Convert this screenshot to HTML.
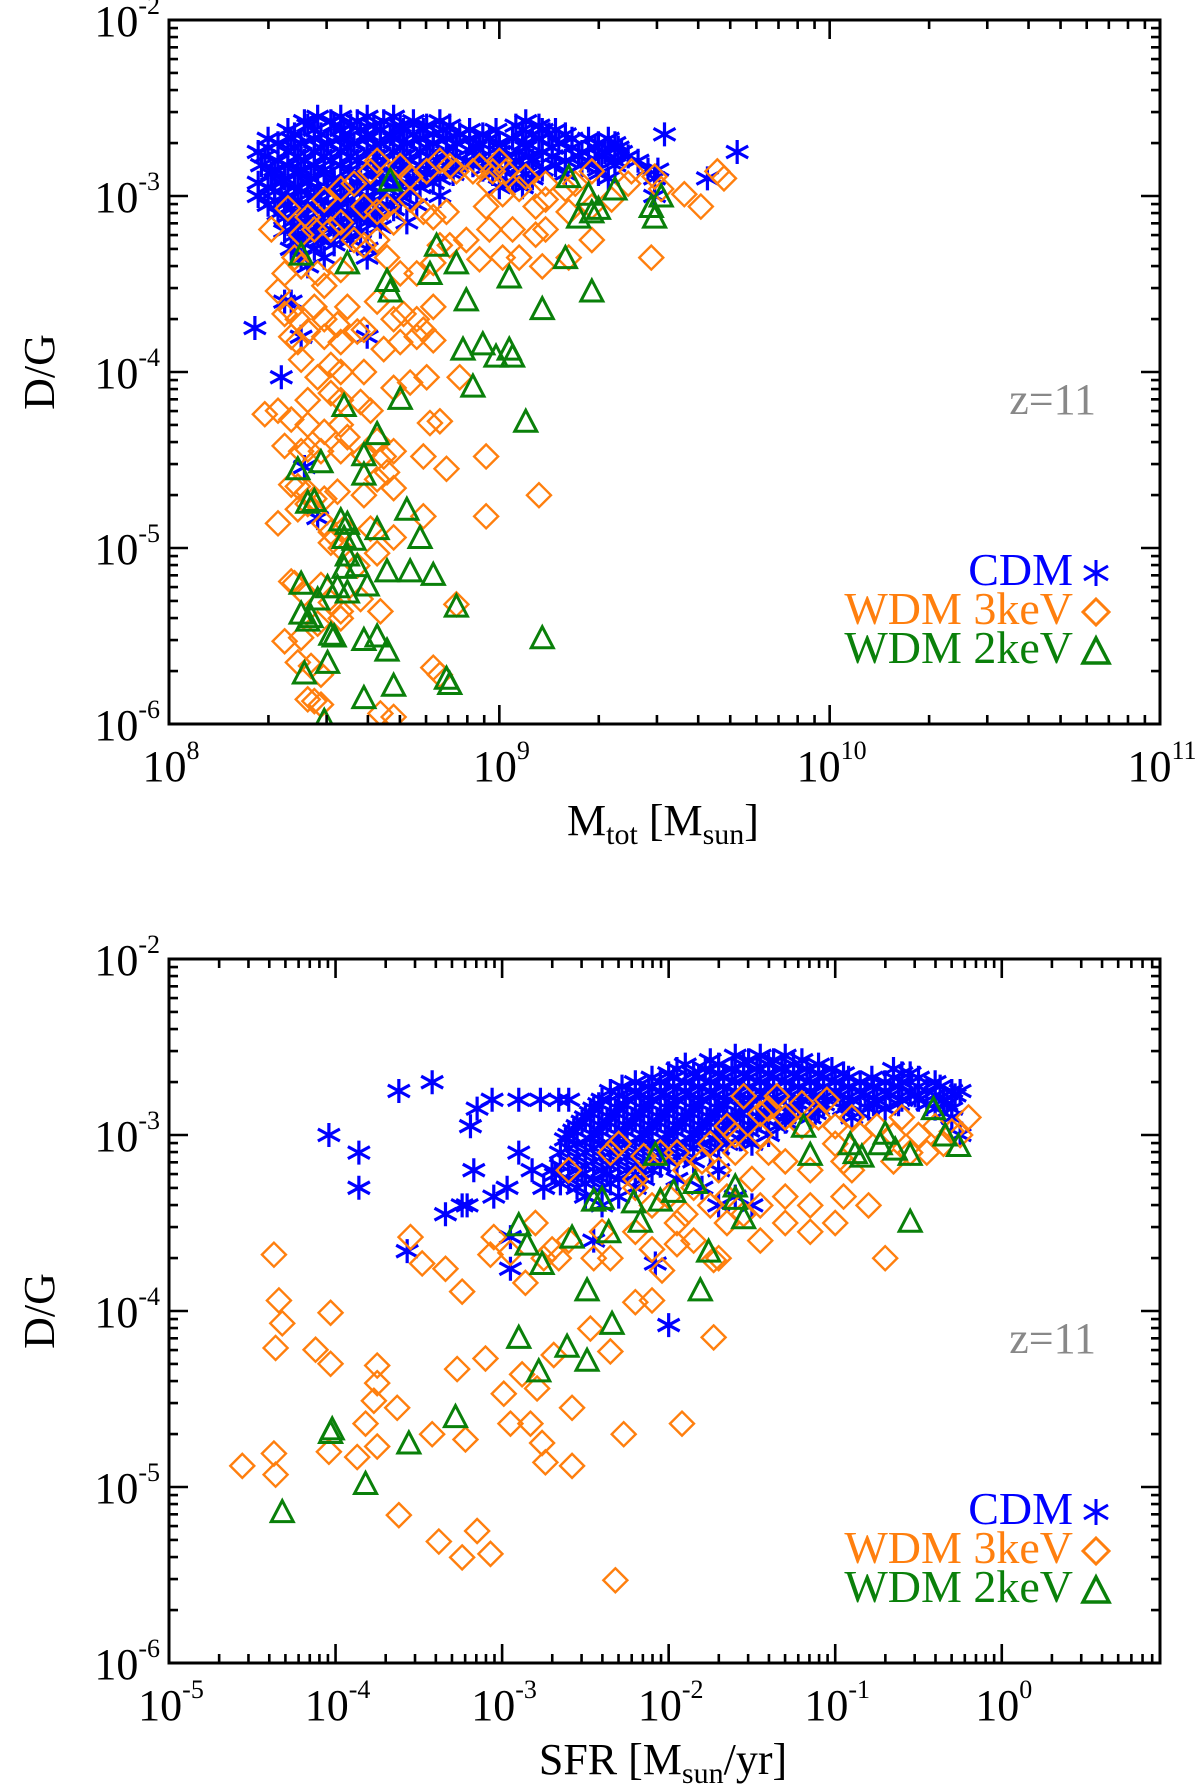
<!DOCTYPE html>
<html><head><meta charset="utf-8"><style>
html,body{margin:0;padding:0;background:#fff}
svg{display:block}
text{font-family:"Liberation Serif",serif}
</style></head><body>
<svg id="fig" width="1200" height="1789" viewBox="0 0 1200 1789" xmlns="http://www.w3.org/2000/svg">
<g id="p1"></g>
<g id="p2"></g>
</svg>
<script>
// ---------- data (log10 values) ----------
const cdmTopRows = [
 [-2.55,[8.45,8.52,8.6,8.68]],
 [-2.575,[8.41,8.49,8.57,8.65,8.74,8.82,9.08]],
 [-2.6,[8.42,8.5,8.55,8.62,8.7,8.78,8.85,9.05,9.12]],
 [-2.625,[8.36,8.44,8.52,8.58,8.64,8.71,8.77,8.83,8.91,8.99,9.07,9.13,9.17]],
 [-2.65,[8.38,8.46,8.53,8.6,8.67,8.74,8.8,8.88,8.95,9.1,9.15,9.2,9.5]],
 [-2.675,[8.3,8.37,8.44,8.52,8.6,8.68,8.76,8.84,8.91,8.97,9.04,9.12,9.22,9.27,9.33]],
 [-2.7,[8.33,8.4,8.48,8.56,8.64,8.72,8.8,8.87,8.94,9.0,9.08,9.18,9.3,9.35]],
 [-2.725,[8.3,8.38,8.46,8.54,8.62,8.7,8.78,8.86,8.93,9.0,9.08,9.16,9.22,9.29,9.36]],
 [-2.75,[8.27,8.36,8.44,8.52,8.6,8.68,8.76,8.84,8.92,9.0,9.06,9.13,9.25,9.32,9.37,9.72]],
 [-2.775,[8.29,8.39,8.47,8.55,8.63,8.71,8.79,8.87,8.95,9.02,9.09,9.16,9.24,9.31,9.39]],
 [-2.8,[8.33,8.41,8.49,8.57,8.65,8.73,8.81,8.9,8.97,9.05,9.1,9.2,9.27,9.35,9.42]],
 [-2.825,[8.28,8.36,8.44,8.52,8.6,8.68,8.76,8.84,8.92,8.99,9.07,9.17,9.25,9.35]],
 [-2.85,[8.32,8.4,8.47,8.55,8.62,8.7,8.78,8.86,8.95,9.02,9.13,9.3,9.45,9.48]],
 [-2.875,[8.31,8.39,8.47,8.55,8.62,8.7,8.78,8.86,8.98,9.08,9.2,9.3]],
 [-2.9,[8.35,8.43,8.5,8.58,8.66,8.74,8.82,9.05,9.1,9.33,9.47,9.63]],
 [-2.925,[8.27,8.34,8.42,8.5,8.57,8.64,8.72,8.8,9.04]],
 [-2.95,[8.3,8.38,8.45,8.53,8.6,8.68,8.76,9.0,9.07]],
 [-2.975,[8.32,8.4,8.48,8.56,8.64,8.73]],
 [-3.0,[8.27,8.36,8.44,8.52,8.6,8.7,8.82,9.47]],
 [-3.025,[8.32,8.39,8.46,8.54,8.62,8.7]],
 [-3.05,[8.3,8.35,8.42,8.5,8.58,8.66,8.75]],
 [-3.075,[8.37,8.44,8.51,8.59,8.68]],
 [-3.1,[8.33,8.4,8.47,8.55,8.63]],
 [-3.125,[8.35,8.42,8.49,8.57]],
 [-3.15,[8.37,8.44,8.52,8.6,8.72]],
 [-3.175,[8.39,8.46,8.54,8.64]],
 [-3.2,[8.35,8.42,8.5,8.58]],
 [-3.225,[8.38,8.45,8.52]],
 [-3.25,[8.39,8.46,8.55]],
 [-3.275,[8.41,8.5]],
 [-3.3,[8.37,8.44,8.6]],
 [-3.35,[8.4,8.47,8.6]],
 [-3.4,[8.42]],
 [-3.6,[8.35,8.37]],
 [-3.75,[8.26]],
 [-3.8,[8.4,8.6]],
 [-4.03,[8.34]],
 [-4.54,[8.41]],
 [-4.83,[8.45]]
];
const wdm3Top = [[8.31,-3.19],[8.36,-3.07],[8.42,-3.12],[8.47,-3.02],[8.52,-2.96],[8.56,-2.93],[8.61,-2.86],[8.63,-2.80],[8.70,-2.83],[8.73,-2.89],[8.78,-2.86],[8.82,-2.80],[8.85,-2.83],[8.87,-2.86],[8.92,-2.86],[8.94,-2.83],[8.97,-2.93],[9.01,-2.99],[9.06,-2.96],[9.11,-3.06],[9.14,-3.02],[9.21,-3.09],[9.28,-3.06],[9.34,-3.02],[9.39,-2.93],[9.49,-2.96],[9.56,-2.99],[9.61,-3.06],[9.68,-2.90],[9.66,-2.86],[9.40,-2.86],[9.47,-2.89],[9.28,-2.86],[9.23,-2.93],[9.14,-2.93],[9.20,-2.96],[9.08,-2.89],[9.02,-2.86],[8.98,-2.86],[9.00,-2.80],
[8.35,-3.44],[8.38,-3.35],[8.40,-3.22],[8.44,-3.19],[8.49,-3.19],[8.52,-3.15],[8.59,-3.06],[8.63,-3.09],[8.66,-3.06],[8.68,-3.15],[8.73,-3.02],[8.77,-3.09],[8.80,-3.12],[8.84,-3.09],[8.96,-3.06],[8.97,-3.19],[9.04,-3.19],[9.11,-3.22],[9.14,-3.19],[9.01,-3.35],[9.06,-3.35],[9.13,-3.40],[9.21,-3.35],[9.28,-3.25],[9.46,-3.35],
[8.40,-3.40],[8.45,-3.44],[8.47,-3.51],[8.52,-3.42],[8.56,-3.25],[8.59,-3.28],[8.63,-3.25],[8.66,-3.35],[8.70,-3.44],[8.75,-3.44],[8.80,-3.38],[8.82,-3.28],[8.85,-3.28],[8.90,-3.25],[8.94,-3.36],
[8.33,-3.54],[8.35,-3.67],[8.37,-3.65],[8.39,-3.70],[8.44,-3.63],[8.47,-3.70],[8.51,-3.73],[8.54,-3.63],[8.59,-3.76],[8.63,-3.60],[8.68,-3.70],[8.71,-3.67],[8.75,-3.70],[8.77,-3.76],[8.80,-3.63],
[8.37,-3.80],[8.39,-3.83],[8.42,-3.77],[8.47,-3.80],[8.52,-3.83],[8.57,-3.77],[8.65,-3.87],[8.70,-3.83],[8.75,-3.80],[8.80,-3.82],
[8.40,-3.93],[8.45,-4.03],[8.49,-3.96],[8.52,-4.00],[8.59,-4.00],[8.68,-4.09],[8.73,-4.06],[8.78,-4.03],[8.88,-4.03],
[8.42,-4.16],[8.49,-4.12],[8.52,-4.16],[8.58,-4.17],[8.61,-4.22],
[8.29,-4.24],[8.33,-4.22],[8.37,-4.27],[8.42,-4.30],[8.47,-4.34],[8.52,-4.30],[8.54,-4.37],[8.63,-4.39],[8.65,-4.48],[8.68,-4.45],[8.79,-4.29],[8.82,-4.28],
[8.35,-4.42],[8.40,-4.45],[8.42,-4.44],[8.46,-4.45],[8.52,-4.45],[8.59,-4.47],[8.63,-4.61],[8.77,-4.48],[8.84,-4.55],
[8.37,-4.64],[8.39,-4.65],[8.42,-4.68],[8.44,-4.72],[8.47,-4.72],[8.51,-4.68],[8.59,-4.70],[8.66,-4.57],[8.68,-4.66],[8.96,-4.48],[9.12,-4.70],
[8.33,-4.86],[8.39,-4.78],[8.42,-4.75],[8.47,-4.86],[8.49,-4.91],[8.53,-4.89],[8.61,-4.89],[8.77,-4.82],[8.96,-4.82],
[8.49,-4.97],[8.52,-5.00],[8.57,-5.10],[8.63,-5.03],[8.68,-4.94],
[8.37,-5.19],[8.38,-5.20],[8.41,-5.26],[8.46,-5.21],[8.49,-5.31],[8.52,-5.36],[8.58,-5.29],[8.87,-5.32],
[8.35,-5.53],[8.40,-5.51],[8.45,-5.43],[8.52,-5.40],[8.64,-5.36],
[8.39,-5.65],[8.43,-5.67],[8.46,-5.72],[8.42,-5.86],[8.44,-5.87],[8.46,-5.89],[8.64,-5.94],[8.68,-5.96],[8.80,-5.68],[8.82,-5.72]];
const wdm2Top = [[8.40,-3.33],[8.67,-2.91],[8.54,-3.38],[8.67,-3.54],[8.66,-3.48],[8.79,-3.44],[8.81,-3.28],[8.87,-3.38],[8.90,-3.59],[8.95,-3.84],[9.03,-3.46],[9.20,-3.35],[9.21,-2.89],[9.24,-3.12],[9.28,-3.09],[9.27,-2.99],[9.30,-3.07],[9.35,-2.96],[9.46,-3.06],[9.47,-3.12],[9.49,-3.00],[9.13,-3.64],[9.28,-3.54],[8.89,-3.87],[8.99,-3.91],[9.04,-3.91],[8.92,-4.08],[9.08,-4.28],[8.53,-4.19],[8.63,-4.35],[8.70,-4.15],[8.46,-4.51],[8.59,-4.47],[8.59,-4.58],[8.39,-4.55],[8.42,-4.74],[8.44,-4.73],[8.52,-4.84],[8.54,-4.86],[8.53,-4.94],[8.63,-4.89],[8.72,-4.78],[8.76,-4.94],[8.80,-5.15],[8.73,-5.13],[8.66,-5.13],[8.56,-4.95],[8.54,-5.04],[8.57,-5.10],[8.53,-5.11],[8.40,-5.20],[8.40,-5.37],[8.43,-5.39],[8.42,-5.41],[8.45,-5.29],[8.48,-5.22],[8.51,-5.22],[8.54,-5.25],[8.60,-5.21],[8.49,-5.49],[8.50,-5.50],[8.59,-5.52],[8.63,-5.50],[8.66,-5.58],[8.41,-5.71],[8.48,-5.65],[8.68,-5.78],[8.59,-5.85],[8.84,-5.74],[8.85,-5.77],[8.87,-5.33],[9.13,-5.51],[8.47,-5.98],[9.03,-3.87]];

const cdmBotRows = [
 [-2.55,[-1.6,-1.45,-1.3]],
 [-2.575,[-1.75,-1.52,-1.37,-1.2]],
 [-2.6,[-1.9,-1.7,-1.55,-1.4,-1.25,-1.1]],
 [-2.625,[-1.95,-1.78,-1.62,-1.47,-1.32,-1.17,-1.02,-0.65]],
 [-2.65,[-2.0,-1.85,-1.7,-1.55,-1.4,-1.25,-1.1,-0.95,-0.6,-0.55]],
 [-2.675,[-2.1,-1.97,-1.82,-1.67,-1.52,-1.37,-1.22,-1.07,-0.92,-0.78,-0.65,-0.5]],
 [-2.7,[-2.2,-2.05,-1.9,-1.75,-1.6,-1.45,-1.3,-1.15,-1.0,-0.85,-0.7,-0.6,-0.4,-3.42]],
 [-2.725,[-2.28,-2.12,-1.97,-1.82,-1.67,-1.52,-1.37,-1.22,-1.07,-0.92,-0.77,-0.62,-0.5,-0.37]],
 [-2.75,[-2.35,-2.2,-2.05,-1.9,-1.75,-1.6,-1.45,-1.3,-1.15,-1.0,-0.85,-0.7,-0.55,-0.45,-0.3,-0.25,-3.62]],
 [-2.775,[-2.3,-2.17,-2.02,-1.87,-1.72,-1.57,-1.42,-1.27,-1.12,-0.97,-0.82,-0.67,-0.52,-0.4,-0.28]],
 [-2.8,[-2.4,-2.25,-2.1,-1.95,-1.8,-1.65,-1.5,-1.35,-1.2,-1.05,-0.9,-0.75,-0.6,-0.5,-0.35,-3.06,-2.9,-2.77,-2.66,-2.6]],
 [-2.825,[-2.42,-2.27,-2.12,-1.97,-1.82,-1.67,-1.52,-1.37,-1.22,-1.07,-0.92,-0.77,-0.62,-0.45,-0.33]],
 [-2.85,[-2.45,-2.3,-2.15,-2.0,-1.85,-1.7,-1.55,-1.4,-1.25,-1.1,-0.95,-0.8,-0.7,-0.4,-0.3,-3.15]],
 [-2.875,[-2.47,-2.32,-2.17,-2.02,-1.87,-1.72,-1.57,-1.42,-1.27,-1.12,-0.85,-0.35]],
 [-2.9,[-2.5,-2.35,-2.2,-2.05,-1.9,-1.75,-1.6,-1.45,-1.3,-1.15,-0.9,-0.3]],
 [-2.925,[-2.52,-2.37,-2.22,-2.07,-1.92,-1.77,-1.62,-1.47,-1.3]],
 [-2.95,[-2.55,-2.4,-2.25,-2.1,-1.95,-1.8,-1.65,-1.5,-1.35,-3.19]],
 [-2.975,[-2.57,-2.42,-2.27,-2.12,-1.97,-1.82,-1.67,-1.52]],
 [-3.0,[-2.6,-2.45,-2.3,-2.15,-2.0,-1.85,-1.7,-1.55,-1.4,-0.25,-4.04]],
 [-3.025,[-2.62,-2.47,-2.32,-2.17,-2.02,-1.87,-1.72,-1.57]],
 [-3.05,[-2.55,-2.4,-2.25,-2.1,-1.95,-1.8,-1.65,-1.5]],
 [-3.075,[-2.6,-2.45,-2.3,-2.15,-2.0,-1.85,-1.7]],
 [-3.1,[-2.65,-2.5,-2.35,-2.2,-2.05,-1.9,-1.75,-2.9,-3.86]],
 [-3.125,[-2.55,-2.4,-2.25,-2.1,-1.95]],
 [-3.15,[-2.6,-2.45,-2.3,-2.15,-2.0,-1.85]],
 [-3.175,[-2.65,-2.5,-2.35,-2.2,-2.05]],
 [-3.2,[-2.7,-2.55,-2.4,-2.25,-2.1,-1.7,-2.82,-3.17]],
 [-3.225,[-2.68,-2.52,-2.37,-2.2]],
 [-3.25,[-2.6,-2.45,-2.3,-2.15,-1.95]],
 [-3.275,[-2.65,-2.5,-2.35]],
 [-3.3,[-2.75,-2.55,-2.4,-2.2,-1.8,-3.86,-2.97]],
 [-3.35,[-2.5,-2.3,-1.6,-3.05]],
 [-3.4,[-2.4,-1.7,-1.5,-3.24,-3.21]],
 [-3.45,[-3.34]],
 [-3.58,[-2.95]],
 [-3.6,[-2.45]],
 [-3.66,[-3.57]],
 [-3.73,[-2.08]],
 [-3.76,[-2.95]],
 [-4.08,[-2.0]]
];
const wdm3Bot = [[-2.3,-3.05],[-2.05,-3.1],[-1.75,-3.05],[-1.6,-3.0],[-1.45,-3.0],[-1.4,-2.85],[-1.3,-2.9],[-1.2,-2.95],[-1.1,-2.9],[-1.05,-2.8],[-1.0,-2.95],[-0.9,-2.9],[-0.85,-3.0],[-0.75,-2.95],[-0.65,-3.0],[-0.55,-3.1],[-0.5,-3.0],[-0.4,-2.95],[-0.3,-2.98],[-0.25,-3.0],[-0.35,-3.05],[-0.6,-2.9],[-1.2,-2.82],[-1.35,-2.78],[-1.55,-2.78],[-1.45,-2.88],[-1.65,-2.95],[-1.8,-3.15],[-1.95,-3.1],[-2.15,-3.12],[-2.35,-3.1],[-2.6,-3.2],[-2.2,-3.25],[-1.9,-3.2],[-1.7,-3.2],[-1.5,-3.25],[-1.3,-3.15],[-1.15,-3.2],[-1.0,-3.05],[-0.95,-3.15],[-1.4,-3.1],[-1.6,-3.1],[-1.85,-3.3],[-2.0,-3.35],[-2.1,-3.4],[-2.2,-3.3],[-1.9,-3.45],[-1.75,-3.4],[-1.65,-3.35],[-1.55,-3.45],[-1.45,-3.4],[-1.3,-3.35],[-1.15,-3.55],[-1.3,-3.5],[-1.45,-3.6],[-1.65,-3.5],[-1.85,-3.6],[-1.95,-3.5],[-2.2,-3.55],[-2.4,-3.55],[-2.7,-3.65],[-2.75,-3.7],[-2.6,-3.6],[-2.35,-3.7],[-2.1,-3.65],[-1.95,-3.62],[-1.7,-3.7],[-2.8,-3.5],[-0.7,-3.7],[-0.8,-3.4],[-1.15,-3.4],[-1.0,-3.5],[-0.95,-3.35],[-0.9,-3.2],[-0.65,-3.15],[-0.45,-3.1],[-0.2,-2.9],
[-4.37,-3.68],[-4.34,-3.94],[-4.32,-4.07],[-4.36,-4.21],[-4.03,-4.01],[-4.03,-4.30],[-4.12,-4.22],[-4.37,-4.81],[-4.36,-4.93],[-4.56,-4.88],[-4.04,-4.80],[-3.87,-4.83],[-3.75,-4.31],[-3.75,-4.41],[-3.77,-4.51],[-3.82,-4.64],[-3.63,-4.55],[-3.75,-4.77],[-3.62,-5.16],[-3.42,-4.70],[-3.38,-5.31],[-3.24,-5.40],[-3.07,-5.38],[-3.15,-5.25],[-3.55,-3.58],[-3.48,-3.73],[-3.34,-3.76],[-3.24,-3.89],[-3.05,-3.58],[-3.07,-3.68],[-3.22,-4.73],[-3.27,-4.33],[-3.10,-4.27],[-2.99,-4.47],[-2.95,-4.64],[-2.88,-4.36],[-2.79,-4.44],[-2.83,-4.64],[-2.76,-4.75],[-2.74,-4.86],[-2.69,-4.25],[-2.58,-4.55],[-2.58,-4.88],[-2.47,-4.10],[-2.35,-4.23],[-2.32,-5.53],[-2.27,-4.70],[-2.10,-3.94],[-1.92,-4.64],[-1.73,-3.71],[-1.73,-4.15],[-2.2,-3.95],[-2.04,-3.77],[-2.45,-3.70],[-2.66,-3.70],[-2.86,-3.84],[-2.95,-3.67]];
const wdm2Bot = [[-4.32,-5.14],[-4.03,-4.69],[-4.02,-4.67],[-3.82,-4.98],[-3.56,-4.75],[-3.28,-4.60],[-2.90,-4.15],[-2.78,-4.34],[-2.61,-4.20],[-2.49,-4.28],[-2.34,-4.07],[-2.76,-3.73],[-2.90,-3.51],[-2.85,-3.62],[-2.58,-3.58],[-2.49,-3.88],[-2.45,-3.37],[-2.40,-3.36],[-2.36,-3.55],[-2.21,-3.38],[-2.17,-3.49],[-2.08,-3.11],[-2.05,-3.37],[-1.97,-3.32],[-1.84,-3.27],[-1.81,-3.88],[-1.76,-3.66],[-1.60,-3.36],[-1.55,-3.47],[-1.19,-2.95],[-1.15,-3.11],[-0.91,-3.05],[-0.88,-3.10],[-0.84,-3.12],[-0.73,-3.05],[-0.70,-2.99],[-0.64,-3.08],[-0.55,-3.11],[-0.41,-2.85],[-0.34,-3.00],[-0.26,-3.06],[-0.55,-3.49],[-1.60,-3.29]];

const yTicksExp = [-2,-3,-4,-5,-6];
const xTicksTop = [8,9,10,11];
const xTicksBot = [-5,-4,-3,-2,-1,0];
const legendLabels = ["CDM","WDM 3keV","WDM 2keV"];
const legendColors = ["#0000ff","#ff7f0e","#0a800a"];

// ---------- drawing ----------
const NS="http://www.w3.org/2000/svg";
function mk(parent,tag,attrs){const e=document.createElementNS(NS,tag);for(const k in attrs)e.setAttribute(k,attrs[k]);parent.appendChild(e);return e;}

function panel(g,cfg){
  const L=169,R=1160,T=cfg.top,B=cfg.top+704;
  const sx=v=>L+(v-cfg.xmin)/(cfg.xmax-cfg.xmin)*(R-L);
  const sy=v=>T+(cfg.ymax-v)/(cfg.ymax-cfg.ymin)*(B-T);
  const mg=mk(g,'g',{});
  
  
  const ast=(x,y,c)=>{const p=mk(mg,'path',{d:`M${x},${y-12}V${y+12}M${x-11},${y-6}L${x+11},${y+6}M${x-11},${y+6}L${x+11},${y-6}`,stroke:c,'stroke-width':3.2,fill:'none'});};
  const dia=(x,y,c)=>{const p=mk(mg,'path',{d:`M${x},${y-12}L${x+12},${y}L${x},${y+12}L${x-12},${y}Z`,stroke:c,'stroke-width':2.4,fill:'none'});};
  const tri=(x,y,c)=>{const p=mk(mg,'path',{d:`M${x},${y-11}L${x+11},${y+10}L${x-11},${y+10}Z`,stroke:c,'stroke-width':3,fill:'none'});};
  const clip=(x,y)=>x>=L-2&&x<=R+2&&y>=T-2&&y<=B+14;
  cfg.cdm.forEach(r=>r[1].forEach(xv=>{const x=sx(xv),y=sy(r[0]);if(clip(x,y))ast(x,y,legendColors[0]);}));
  cfg.w3.forEach(p=>{const x=sx(p[0]),y=sy(p[1]);if(clip(x,y))dia(x,y,legendColors[1]);});
  cfg.w2.forEach(p=>{const x=sx(p[0]),y=sy(p[1]);if(clip(x,y))tri(x,y,legendColors[2]);});
  mk(g,'rect',{x:0,y:B+1.5,width:1200,height:40,fill:'#fff'});
  const fr=mk(g,'rect',{x:L,y:T,width:R-L,height:B-T,fill:'none',stroke:'#000','stroke-width':3});
  
  let d='';
  for(let e=Math.floor(cfg.ymin);e<cfg.ymax;e++){for(let m=1;m<10;m++){const v=e+Math.log10(m);if(v<cfg.ymin-1e-6||v>cfg.ymax+1e-6)continue;const y=sy(v);const len=m===1?19:9;d+=`M${L},${y}h${len}M${R},${y}h${-len}`;}}
  {const y=sy(cfg.ymax);d+=`M${L},${y}h19M${R},${y}h-19`;}
  for(let e=Math.floor(cfg.xmin);e<=Math.ceil(cfg.xmax);e++){for(let m=1;m<10;m++){const v=e+Math.log10(m);if(v<cfg.xmin-1e-6||v>cfg.xmax+1e-6)continue;const x=sx(v);const len=m===1?19:9;d+=`M${x},${B}v${-len}M${x},${T}v${len}`;}}
  const tk=mk(g,'path',{d,stroke:'#000','stroke-width':2.6,fill:'none'});
  
  yTicksExp.forEach(e=>{const y=sy(e);const t=mk(g,'text',{x:160,y:y+16,'text-anchor':'end','font-size':44});
    
    t.innerHTML=`10<tspan dy="-22" font-size="26">${e<0?'-'+(-e):e}</tspan>`;});
  cfg.xt.forEach(e=>{const x=sx(e);const t=mk(g,'text',{x:x+2,y:B+57,'text-anchor':'middle','font-size':44});
    
    t.innerHTML=`10<tspan dy="-22" font-size="26">${e<0?'-'+(-e):e}</tspan>`;});
  const xt=mk(g,'text',{x:663,y:B+111,'text-anchor':'middle','font-size':44});
  
  xt.innerHTML=cfg.xtitle;
  const ytl=mk(g,'text',{x:0,y:0,'text-anchor':'middle','font-size':44,transform:`translate(54,${(T+B)/2}) rotate(-90)`});
  
  ytl.textContent='D/G';
  const z=mk(g,'text',{x:1096,y:T+394,'text-anchor':'end','font-size':44,fill:'#888'});
  
  z.textContent='z=11';
  const lg=mk(g,'g',{});
  
  legendLabels.forEach((lab,i)=>{const yb=T+565+i*39;
    const t=mk(lg,'text',{x:1073,y:yb,'text-anchor':'end','font-size':46,fill:legendColors[i]});
    
    t.textContent=lab;
    const cy=yb-12;const x=1096;
    if(i===0)mk(lg,'path',{d:`M${x},${cy-13}V${cy+13}M${x-12},${cy-7}L${x+12},${cy+7}M${x-12},${cy+7}L${x+12},${cy-7}`,stroke:legendColors[0],'stroke-width':3,fill:'none'});
    if(i===1)mk(lg,'path',{d:`M${x},${cy-13}L${x+13},${cy}L${x},${cy+13}L${x-13},${cy}Z`,stroke:legendColors[1],'stroke-width':3,fill:'none'});
    if(i===2)mk(lg,'path',{d:`M${x},${cy-13}L${x+13},${cy+12}L${x-13},${cy+12}Z`,stroke:legendColors[2],'stroke-width':3.5,fill:'none'});
  });
}
panel(document.getElementById('p1'),{top:20,xmin:8,xmax:11,ymin:-6,ymax:-2,xt:xTicksTop,cdm:cdmTopRows,w3:wdm3Top,w2:wdm2Top,
  xtitle:'M<tspan font-size="30" dy="9">tot</tspan><tspan dy="-9"> [M</tspan><tspan font-size="30" dy="9">sun</tspan><tspan dy="-9">]</tspan>'});
panel(document.getElementById('p2'),{top:959,xmin:-5,xmax:0.95,ymin:-6,ymax:-2,xt:xTicksBot,cdm:cdmBotRows,w3:wdm3Bot,w2:wdm2Bot,
  xtitle:'SFR [M<tspan font-size="30" dy="9">sun</tspan><tspan dy="-9">/yr]</tspan>'});
</script>
</body></html>
